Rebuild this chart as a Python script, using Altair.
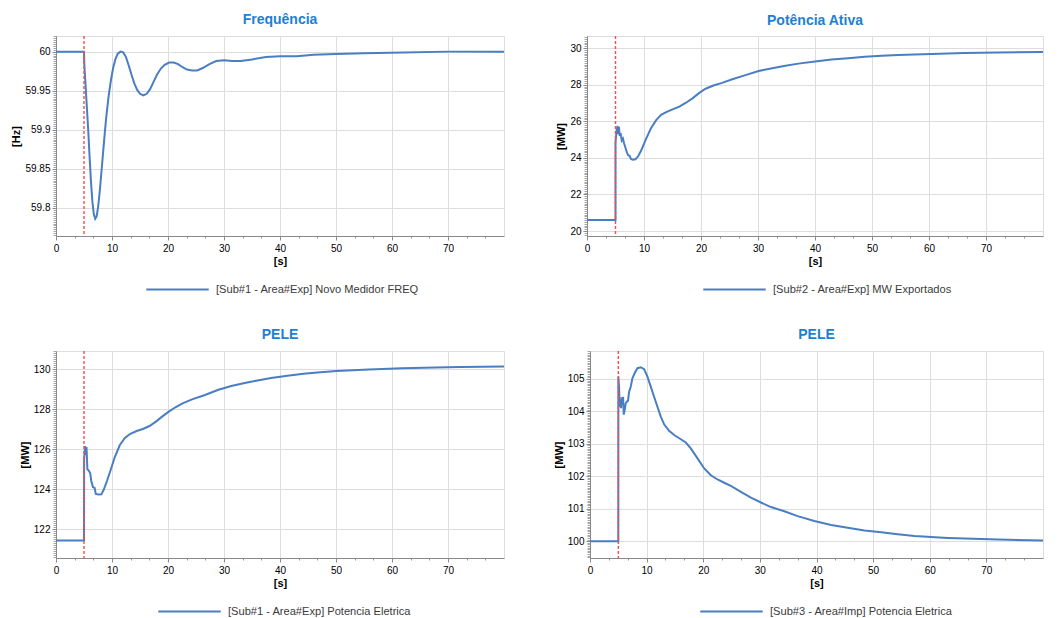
import altair as alt
import pandas as pd

# ---------------- data ----------------
freq_t = [0, 5.0, 5.05, 5.15, 5.3, 5.5, 5.75, 6.0, 6.25, 6.5, 6.75, 7.0, 7.25, 7.5, 7.8, 8.1,
          8.4, 8.7, 9.0, 9.4, 9.8, 10.2, 10.6, 11.0, 11.5, 12.0, 12.5, 13.0, 13.5, 14.0, 14.5,
          15.0, 15.6, 16.2, 16.8, 17.4, 18.0, 18.7, 19.4, 20.2, 21.0, 21.8, 22.6, 23.4, 24.3,
          25.2, 26.2, 27.4, 28.6, 30.0, 31.5, 33.0, 35.0, 37.5, 40.0, 43.0, 46.0, 50.0, 55.0,
          62.0, 70.0, 80.0]
freq_v = [60.0, 60.0, 59.985, 59.972, 59.955, 59.93, 59.9, 59.865, 59.833, 59.808, 59.792,
          59.786, 59.789, 59.8, 59.82, 59.845, 59.87, 59.895, 59.918, 59.943, 59.963, 59.979,
          59.99, 59.997, 60.0, 59.999, 59.993, 59.982, 59.97, 59.959, 59.951, 59.946, 59.944,
          59.946, 59.952, 59.961, 59.97, 59.978, 59.983, 59.986, 59.986, 59.984, 59.98,
          59.977, 59.976, 59.976, 59.979, 59.984, 59.988, 59.989, 59.988, 59.988, 59.99,
          59.993, 59.994, 59.994, 59.996, 59.997, 59.998, 59.999, 60.0, 60.0]

pot_t = [0, 5.0, 5.0, 5.2, 5.35, 5.5, 5.6, 5.75, 5.9, 6.1, 6.3, 6.5, 6.8, 7.0, 7.2, 7.5, 7.7,
         8.0, 8.5, 9.0, 9.5, 10.3, 11.2, 12.1, 13.0, 13.9, 15.0, 16.2, 17.3, 18.5, 19.7, 20.8,
         22.3, 23.7, 25.5, 27.8, 30.1, 32.5, 34.8, 37.1, 40.0, 42.9, 45.8, 48.7, 51.7, 54.6,
         57.5, 60.4, 63.3, 66.2, 72.0, 80.0]
pot_v = [20.6, 20.6, 24.85, 25.5, 25.75, 25.3, 25.7, 25.2, 25.35, 24.95, 25.05, 24.8, 24.5,
         24.3, 24.15, 24.1, 23.95, 23.9, 23.92, 24.1, 24.4, 25.0, 25.6, 26.05, 26.35, 26.5,
         26.65, 26.8, 27.0, 27.25, 27.55, 27.78, 27.97, 28.1, 28.3, 28.52, 28.75, 28.9, 29.03,
         29.15, 29.27, 29.37, 29.45, 29.52, 29.58, 29.62, 29.65, 29.68, 29.7, 29.73, 29.76,
         29.78]

pele1_t = [0, 5.0, 5.02, 5.2, 5.35, 5.45, 5.6, 5.9, 6.1, 6.3, 6.6, 6.9, 7.1, 7.6, 8.1, 8.5,
           9.1, 9.7, 10.5, 11.4, 12.3, 13.2, 14.4, 15.5, 16.7, 17.9, 19.0, 20.2, 21.4, 22.6,
           24.3, 26.6, 29.0, 31.3, 33.7, 36.0, 38.4, 41.3, 44.2, 47.2, 50.1, 55.9, 61.8, 67.7,
           72.3, 80.0]
pele1_v = [121.42, 121.42, 125.5, 126.15, 125.7, 126.1, 125.0, 124.9, 124.8, 124.4, 124.1,
           124.05, 123.75, 123.72, 123.73, 123.95, 124.4, 124.9, 125.6, 126.2, 126.55, 126.75,
           126.9, 127.0, 127.15, 127.38, 127.63, 127.88, 128.1, 128.28, 128.48, 128.7, 128.96,
           129.15, 129.3, 129.43, 129.55, 129.66, 129.76, 129.84, 129.9, 129.98, 130.04,
           130.08, 130.1, 130.12]

pele3_t = [0, 5.0, 5.01, 5.13, 5.25, 5.37, 5.48, 5.6, 5.72, 5.84, 5.96, 6.13, 6.31, 6.49,
           6.72, 6.9, 7.19, 7.49, 7.9, 8.37, 8.96, 9.55, 10.14, 10.73, 11.32, 11.91, 12.5,
           13.09, 13.97, 14.86, 16.04, 16.92, 17.8, 18.99, 20.17, 21.34, 22.52, 23.7, 24.88,
           26.65, 28.42, 30.19, 31.96, 34.32, 36.67, 39.62, 42.57, 45.52, 48.47, 51.42, 54.36,
           57.3, 60.26, 63.2, 66.16, 72.05, 80.0]
pele3_v = [100.0, 100.0, 105.07, 104.76, 104.14, 104.35, 104.1, 104.43, 104.2, 104.45, 103.9,
           104.05, 104.25, 104.3, 104.33, 104.6, 104.76, 105.02, 105.18, 105.33, 105.36, 105.3,
           105.07, 104.76, 104.45, 104.14, 103.84, 103.6, 103.4, 103.27, 103.14, 103.04,
           102.86, 102.55, 102.24, 102.03, 101.9, 101.8, 101.7, 101.52, 101.34, 101.19,
           101.05, 100.92, 100.77, 100.62, 100.5, 100.41, 100.33, 100.27, 100.21, 100.16,
           100.13, 100.1, 100.08, 100.05, 100.02]

titles = ["Frequência", "Potência Ativa", "PELE", "PELE"]
y_titles = ["[Hz]", "[MW]", "[MW]", "[MW]"]
legend_labels = ["[Sub#1 - Area#Exp] Novo Medidor FREQ",
                 "[Sub#2 - Area#Exp] MW Exportados",
                 "[Sub#1 - Area#Exp] Potencia Eletrica",
                 "[Sub#3 - Area#Imp] Potencia Eletrica"]
x_major_step = 10
x_minor_per_major = 3
y_major_step = [0.05, 2, 2, 1]
y_minor_per_major = [20, 20, 20, 20]
y_domains = [[59.764, 60.02], [19.73, 30.66], [120.55, 130.9], [99.48, 105.86]]
event_t = [5.0]

FONT = "Liberation Sans"
LINE = "#4a7ec2"
TITLE_C = "#1d7fd2"


def tick_values(lo, hi, major, per):
    step = major / per
    k = int(lo / step) - 1
    out = []
    while k * step <= hi + 1e-9:
        val = round(k * step, 6)
        if val >= lo - 1e-9:
            out.append(val)
        k += 1
    return out


def major_test(major):
    inv = 1.0 / major
    return f"abs(datum.value*{inv} - round(datum.value*{inv})) < 1e-4"


def panel(t, v, title, ytitle, ydom, ymajor, yper, label, w, h, legend_x, legend_y):
    df = pd.DataFrame({"t": t, "v": v, "i": list(range(len(t))), "s": label})
    xs = alt.Scale(domain=[0, 80], nice=False, zero=False)
    ys = alt.Scale(domain=ydom, nice=False, zero=False)
    xt = major_test(x_major_step)
    yt = major_test(ymajor)
    x_axis = alt.Axis(
        values=tick_values(0, 79, x_major_step, x_minor_per_major),
        labelExpr=f"({xt}) && datum.value < 75 ? format(datum.value, '~g') : ''",
        labelOverlap=False, labelFlush=False, title="[s]", orient="bottom",
        tickSize={"condition": {"test": xt, "value": 4}, "value": 2},
        tickColor={"condition": {"test": xt, "value": "#8a8a8a"}, "value": "#9a9a9a"},
        gridOpacity={"condition": {"test": xt, "value": 1}, "value": 0},
        labelPadding=3, titlePadding=2,
    )
    y_axis = alt.Axis(
        values=tick_values(ydom[0], ydom[1], ymajor, yper),
        labelExpr=f"({yt}) ? format(datum.value, '~g') : ''",
        labelOverlap=False, title=ytitle, orient="left",
        tickSize={"condition": {"test": yt, "value": 4}, "value": 3},
        tickColor={"condition": {"test": yt, "value": "#8a8a8a"}, "value": "#a6a6a6"},
        gridOpacity={"condition": {"test": yt, "value": 1}, "value": 0},
        labelPadding=2, titlePadding=3,
    )
    line = alt.Chart(df).mark_line(strokeWidth=2, clip=True).encode(
        x=alt.X("t:Q", scale=xs, axis=x_axis),
        y=alt.Y("v:Q", scale=ys, axis=y_axis),
        order="i:Q",
        color=alt.Color("s:N", scale=alt.Scale(range=[LINE]),
                        legend=alt.Legend(orient="none", legendX=legend_x, legendY=legend_y,
                                          title=None, symbolType="stroke", symbolSize=3900,
                                          symbolStrokeWidth=2.2, labelFontSize=11.1,
                                          labelFont=FONT, labelColor="#3a3a3a",
                                          labelOffset=6, labelLimit=0)),
    )
    ev = pd.DataFrame({"t": event_t})
    rule = alt.Chart(ev).mark_rule(color="#ff4a4a", strokeDash=[3, 2], strokeWidth=1.4).encode(
        x=alt.X("t:Q", scale=xs, axis=x_axis)
    )
    return alt.layer(line, rule).properties(
        width=w, height=h,
        title=alt.TitleParams(title, fontSize=14, font=FONT, fontWeight="bold",
                              color=TITLE_C, anchor="middle", offset=4),
    )


p1 = panel(freq_t, freq_v, titles[0], y_titles[0], y_domains[0], y_major_step[0],
           y_minor_per_major[0], legend_labels[0], 448, 200, 89, 221)
p2 = panel(pot_t, pot_v, titles[1], y_titles[1], y_domains[1], y_major_step[1],
           y_minor_per_major[1], legend_labels[1], 456, 200, 115, 221)
p3 = panel(pele1_t, pele1_v, titles[2], y_titles[2], y_domains[2], y_major_step[2],
           y_minor_per_major[2], legend_labels[2], 448, 207, 101, 228)
p4 = panel(pele3_t, pele3_v, titles[3], y_titles[3], y_domains[3], y_major_step[3],
           y_minor_per_major[3], legend_labels[3], 453, 207, 109, 228)

row1 = alt.hconcat(p1, p2, spacing=50).resolve_scale(color="independent")
row2 = alt.hconcat(p3, p4, spacing=47).resolve_scale(color="independent")
chart = alt.vconcat(row1, row2, spacing=31).resolve_scale(color="independent").properties(
    padding={"left": 2, "top": 4, "right": 0, "bottom": 0}
).configure_view(stroke="#c8c8c8", strokeWidth=1).configure_axis(
    labelFont=FONT, labelFontSize=11, labelColor="#555555", titleFont=FONT, titleFontSize=11,
    titleFontWeight="bold", titleColor="#222222", gridColor="#e2e2e2", domainColor="#b5b5b5",
    tickColor="#a0a0a0"
).configure(background="white")

chart.save("out.html", embed_options={"renderer": "svg", "actions": False})
